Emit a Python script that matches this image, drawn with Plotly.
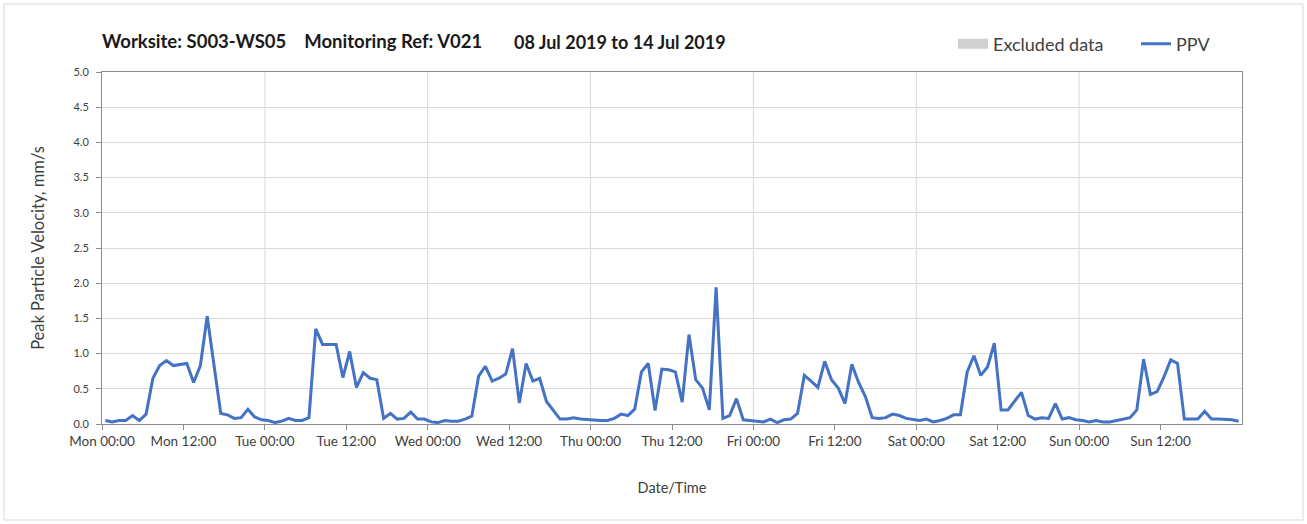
import pandas as pd
import plotly.graph_objects as go

# ---- data (hourly PPV, mm/s; one value per hour, plotted at the half hour) ----
start = "2019-07-08 00:30"
mon = [0.05, 0.03, 0.05, 0.05, 0.12, 0.05, 0.14, 0.65, 0.83, 0.90, 0.83, 0.85,
       0.86, 0.59, 0.83, 1.53, 0.84, 0.15, 0.13, 0.08, 0.09, 0.21, 0.10, 0.06]
tue = [0.05, 0.02, 0.04, 0.08, 0.05, 0.05, 0.09, 1.35, 1.13, 1.13, 1.13, 0.66,
       1.03, 0.52, 0.73, 0.65, 0.63, 0.08, 0.15, 0.07, 0.08, 0.17, 0.07, 0.07]
wed = [0.03, 0.02, 0.05, 0.04, 0.04, 0.07, 0.11, 0.68, 0.82, 0.61, 0.65, 0.71,
       1.07, 0.30, 0.86, 0.61, 0.65, 0.32, 0.20, 0.07, 0.07, 0.09, 0.07, 0.06]
thu = [0.06, 0.05, 0.05, 0.08, 0.14, 0.12, 0.21, 0.74, 0.86, 0.19, 0.78, 0.77,
       0.74, 0.31, 1.27, 0.63, 0.51, 0.20, 1.94, 0.08, 0.12, 0.36, 0.06, 0.05]
fri = [0.04, 0.03, 0.07, 0.02, 0.06, 0.07, 0.15, 0.69, 0.61, 0.52, 0.89, 0.63,
       0.51, 0.29, 0.85, 0.59, 0.39, 0.09, 0.08, 0.09, 0.14, 0.12, 0.08, 0.07]
sat = [0.05, 0.07, 0.03, 0.05, 0.08, 0.13, 0.13, 0.74, 0.97, 0.69, 0.81, 1.15,
       0.20, 0.20, 0.33, 0.45, 0.12, 0.07, 0.09, 0.08, 0.29, 0.07, 0.09, 0.06]
sun = [0.05, 0.03, 0.05, 0.03, 0.03, 0.05, 0.06, 0.09, 0.20, 0.92, 0.42, 0.46,
       0.67, 0.91, 0.86, 0.07, 0.07, 0.07, 0.18, 0.07, 0.07, 0.07, 0.06, 0.04]
ppv = mon + tue + wed + thu + fri + sat + sun
times = pd.date_range(start, periods=len(ppv), freq="h")

range_start = "2019-07-08 00:00"
range_end = "2019-07-15 00:00"
tick_times = pd.date_range(range_start, periods=14, freq="12h")
day_lines = pd.date_range("2019-07-09", periods=6, freq="D")

title_main = "Worksite: S003-WS05\u00a0\u00a0\u00a0\u00a0Monitoring Ref: V021"
title_dates = "08 Jul 2019 to 14 Jul 2019"

FONT = "Lato"
TXT = "#404040"
GRID = "#d9d9d9"
AXIS = "#8c8c8c"

W, H = 1307, 524
L, R, T, B = 102, 65, 72, 100
pw, ph = W - L - R, H - T - B

def px_x(x):
    return (x - L) / pw

def px_y(y):
    return (H - B - y) / ph

fig = go.Figure()
fig.add_trace(go.Scatter(x=[None], y=[None], mode="lines", name="Excluded data",
                         line=dict(color="#d0d0d0", width=10)))
fig.add_trace(go.Scatter(x=times, y=ppv, mode="lines", name="PPV",
                         line=dict(color="#4472C4", width=3)))

shapes = []
for d in day_lines:
    shapes.append(dict(type="line", xref="x", yref="paper", x0=d, x1=d, y0=0, y1=1,
                       line=dict(color=GRID, width=1), layer="below"))
# outer light border of the chart
shapes.append(dict(type="rect", xref="paper", yref="paper",
                   x0=px_x(4), x1=px_x(1303), y0=px_y(4), y1=px_y(520),
                   line=dict(color="#d9d9d9", width=1), layer="below"))

fig.update_layout(
    width=W, height=H,
    margin=dict(l=L, r=R, t=T, b=B, autoexpand=False),
    paper_bgcolor="white", plot_bgcolor="white",
    font=dict(family=FONT, color=TXT, size=13),
    title=dict(text=title_main, xref="paper", x=0, xanchor="left",
               yref="container", y=1 - 42 / H, yanchor="middle",
               font=dict(family=FONT, size=18.5, color="#1a1a1a", weight="bold")),
    annotations=[dict(text=title_dates, xref="paper", yref="paper",
                      x=px_x(512), y=px_y(42), xanchor="left", yanchor="middle",
                      showarrow=False,
                      font=dict(family=FONT, size=18, color="#1a1a1a", weight="bold"))],
    legend=dict(orientation="h", xref="paper", x=px_x(953), xanchor="left",
                yref="container", y=1 - 44 / H, yanchor="middle",
                font=dict(family=FONT, size=18, color=TXT),
                entrywidth=138, entrywidthmode="pixels",
                bgcolor="rgba(0,0,0,0)", itemclick=False),
    shapes=shapes,
    xaxis=dict(type="date", range=[range_start, range_end],
               tickvals=tick_times, tickformat="%a %H:%M",
               ticks="outside", ticklen=5, tickcolor=AXIS,
               showgrid=False, showline=True, linecolor=AXIS, linewidth=1,
               mirror=True, zeroline=False, automargin=False,
               tickfont=dict(size=13.5, color=TXT),
               title=dict(text="Date/Time", font=dict(size=14.5, color=TXT), standoff=34)),
    yaxis=dict(range=[0, 5], dtick=0.5, tick0=0, tickformat=".1f",
               ticks="outside", ticklen=5, tickcolor=AXIS,
               showgrid=True, gridcolor=GRID, gridwidth=1,
               showline=True, linecolor=AXIS, linewidth=1, mirror=True,
               zeroline=False, automargin=False, ticklabelstandoff=5,
               tickfont=dict(size=11, color=TXT),
               title=dict(text="Peak Particle Velocity, mm/s",
                          font=dict(size=16.5, color=TXT), standoff=24)),
)

fig.write_html("out.html",
               config={"displayModeBar": False},
               post_script="document.body.style.margin='0';document.body.style.overflow='hidden';")
